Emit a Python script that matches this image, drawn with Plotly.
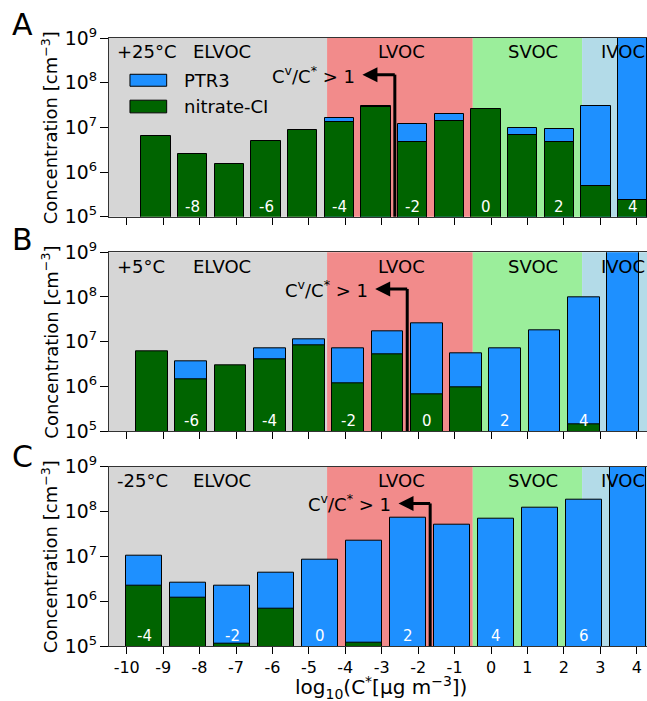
import plotly.graph_objects as go

# ---------------- data ----------------
# Panel A, +25 °C
bins_A = [-9, -8, -7, -6, -5, -4, -3, -2, -1, 0, 1, 2, 3, 4]
x_A = [-9.195, -8.189, -7.182, -6.176, -5.170, -4.164, -3.158, -2.152, -1.146, -0.139, 0.867, 1.873, 2.879, 3.885]
ptr3_A = [None, None, None, None, None, 1.60e7, 3.02e7, 1.16e7, 2.04e7, None, 9.9e6, 9.4e6, 3.02e7, 3e9]
nitrate_A = [6.35e6, 2.47e6, 1.50e6, 4.9e6, 8.8e6, 1.35e7, 2.87e7, 4.8e6, 1.42e7, 2.6e7, 6.6e6, 4.6e6, 4.9e5, 2.36e5]

# Panel B, +5 °C
bins_B = [-7, -6, -5, -4, -3, -2, -1, 0, 1, 2, 3, 4, 5]
x_B = [-9.310, -8.232, -7.154, -6.076, -4.998, -3.920, -2.842, -1.764, -0.686, 0.392, 1.470, 2.548, 3.626]
ptr3_B = [None, 3.56e6, None, 7.2e6, 1.11e7, 7.0e6, 1.73e7, 2.57e7, 5.4e6, 7.0e6, 1.76e7, 9.8e7, 3e9]
nitrate_B = [5.97e6, 1.44e6, 2.90e6, 4.0e6, 8.3e6, 1.15e6, 5.1e6, 6.6e5, 9.3e5, None, None, 1.44e5, None]

# Panel C, -25 °C
bins_C = [-4, -3, -2, -1, 0, 1, 2, 3, 4, 5, 6, 7]
x_C = [-9.522, -8.315, -7.108, -5.900, -4.693, -3.486, -2.278, -1.071, 0.137, 1.344, 2.551, 3.759]
ptr3_C = [1.02e7, 2.63e6, 2.25e6, 4.4e6, 8.6e6, 2.28e7, 7.2e7, 5.2e7, 7.0e7, 1.20e8, 1.81e8, 3e9]
nitrate_C = [2.18e6, 1.18e6, 1.13e5, 6.9e5, None, 1.21e5, None, None, None, None, None, None]

bar_width = [0.805, 0.87, 1.0]
temps = ["+25°C", "+5°C", "-25°C"]
letters = ["A", "B", "C"]
# C^v/C^* = 1 threshold position and arrow tip (log10 C*)
thresh_x = [-2.64, -2.30, -1.67]
arrow_tip_x = [-3.53, -3.18, -2.54]
arrow_y = 8.18  # log10 concentration of arrow

# volatility class regions (log10 C*)
region_names = ["ELVOC", "LVOC", "SVOC", "IVOC"]
region_edges = [-11, -4.5, -0.5, 2.5, 5]
region_colors = ["#d6d6d6", "#f28b8b", "#9bee9b", "#b3dbe8"]
region_label_x = [-7.38, -2.45, 1.16, 3.62]

BLUE = "#1e90ff"
GREEN = "#006400"
FONT = "DejaVu Sans"

panels = [
    (x_A, ptr3_A, nitrate_A, bins_A),
    (x_B, ptr3_B, nitrate_B, bins_B),
    (x_C, ptr3_C, nitrate_C, bins_C),
]

fig = go.Figure()
ydomains = [[0.7061, 1.0], [0.3536, 0.6475], [0.0, 0.2949]]
shapes = []
annotations = []

for i, (xs, ptr, nit, bins) in enumerate(panels):
    xa = "x" if i == 0 else f"x{i+1}"
    ya = "y" if i == 0 else f"y{i+1}"
    w = [bar_width[i]] * len(xs)
    fig.add_trace(go.Bar(x=xs, y=ptr, width=w, xaxis=xa, yaxis=ya, name="PTR3",
                         marker=dict(color=BLUE, line=dict(color="black", width=1)),
                         showlegend=False))
    fig.add_trace(go.Bar(x=xs, y=nit, width=w, xaxis=xa, yaxis=ya, name="nitrate-CI",
                         marker=dict(color=GREEN, line=dict(color="black", width=1)),
                         showlegend=False))
    # background regions
    for k in range(4):
        shapes.append(dict(type="rect", xref=xa, yref=f"{ya} domain",
                           x0=region_edges[k], x1=region_edges[k + 1], y0=0, y1=1,
                           fillcolor=region_colors[k], line=dict(width=0), layer="below"))
        annotations.append(dict(xref=xa, yref=f"{ya} domain", x=region_label_x[k], y=0.922,
                                text=region_names[k], showarrow=False, xanchor="center",
                                yanchor="middle", font=dict(family=FONT, size=18, color="black")))
    # temperature label
    annotations.append(dict(xref=f"{xa} domain", yref=f"{ya} domain", x=0.011, y=0.922,
                            text=temps[i], showarrow=False, xanchor="left", yanchor="middle",
                            font=dict(family=FONT, size=18, color="black")))
    # bin labels (white, inside bars)
    for xv, b in zip(xs, bins):
        if b % 2 == 0:
            annotations.append(dict(xref=xa, yref=ya, x=xv, y=5.22, text=str(b), showarrow=False,
                                    xanchor="center", yanchor="middle",
                                    font=dict(family=FONT, size=15, color="white")))
    # threshold line + arrow
    frac = (arrow_y - 5) / 4
    shapes.append(dict(type="line", xref=xa, yref=f"{ya} domain", x0=thresh_x[i], x1=thresh_x[i],
                       y0=0, y1=frac, line=dict(color="black", width=3), layer="above"))
    annotations.append(dict(xref=xa, yref=ya, x=arrow_tip_x[i], y=arrow_y,
                            axref=xa, ayref=ya, ax=thresh_x[i] + 0.04, ay=arrow_y,
                            text="", showarrow=True, arrowhead=2, arrowsize=1, arrowwidth=3,
                            arrowcolor="black", standoff=0))
    annotations.append(dict(xref=xa, yref=ya, x=arrow_tip_x[i] - 0.15, y=arrow_y,
                            text="C<sup>v</sup>/C<sup>*</sup> > 1", showarrow=False,
                            xanchor="right", yanchor="middle",
                            font=dict(family=FONT, size=18, color="black")))
    # y title
    annotations.append(dict(xref="paper", yref=f"{ya} domain", x=-0.1097, y=0.5,
                            text="Concentration [cm<sup>−3</sup>]", textangle=-90, showarrow=False,
                            xanchor="center", yanchor="middle",
                            font=dict(family=FONT, size=18, color="black")))
    # panel letter
    annotations.append(dict(xref="paper", yref="paper", x=-0.160,
                            y=[1.023, 0.668, 0.3125][i], text=letters[i], showarrow=False,
                            xanchor="center", yanchor="middle",
                            font=dict(family=FONT, size=30, color="black")))

# manual legend in panel A
shapes.append(dict(type="rect", xref="x domain", yref="y domain", x0=0.039, x1=0.1072,
                   y0=0.730, y1=0.797, fillcolor=BLUE, line=dict(color="black", width=1), layer="above"))
shapes.append(dict(type="rect", xref="x domain", yref="y domain", x0=0.039, x1=0.1072,
                   y0=0.581, y1=0.652, fillcolor=GREEN, line=dict(color="black", width=1), layer="above"))
annotations.append(dict(xref="x domain", yref="y domain", x=0.135, y=0.764, text="PTR3",
                        showarrow=False, xanchor="left", yanchor="middle",
                        font=dict(family=FONT, size=18, color="black")))
annotations.append(dict(xref="x domain", yref="y domain", x=0.135, y=0.618, text="nitrate-CI",
                        showarrow=False, xanchor="left", yanchor="middle",
                        font=dict(family=FONT, size=18, color="black")))

# x title
annotations.append(dict(xref="paper", yref="paper", x=0.506, y=-0.069,
                        text="log<sub>10</sub>(C<sup>*</sup>[μg m<sup>−3</sup>])", showarrow=False,
                        xanchor="center", yanchor="middle",
                        font=dict(family=FONT, size=20, color="black")))

xr = [-10.486, 4.282]
xticks = list(range(-10, 5))
common_x = dict(range=xr, tickmode="array", tickvals=xticks, ticktext=[str(t) for t in xticks],
                ticks="outside", ticklen=7, tickwidth=1.2, tickcolor="black",
                showline=True, linecolor="#333", linewidth=1, mirror=True,
                showgrid=False, zeroline=False,
                tickfont=dict(family=FONT, size=16, color="black"))
common_y = dict(type="log", range=[5, 9], dtick=1, exponentformat="power", showexponent="all",
                ticks="outside", ticklen=8, tickwidth=1.2, tickcolor="black",
                showline=True, linecolor="#333", linewidth=1, mirror=True,
                showgrid=False, zeroline=False,
                tickfont=dict(family=FONT, size=15, color="black"))

fig.update_layout(
    width=647, height=701,
    margin=dict(l=109, r=0, t=38, b=55),
    paper_bgcolor="white", plot_bgcolor="white",
    barmode="overlay", bargap=0,
    showlegend=False,
    font=dict(family=FONT, color="black"),
    shapes=shapes, annotations=annotations,
    xaxis=dict(common_x, anchor="y", domain=[0, 1], showticklabels=False),
    xaxis2=dict(common_x, anchor="y2", domain=[0, 1], showticklabels=False, matches="x"),
    xaxis3=dict(common_x, anchor="y3", domain=[0, 1], showticklabels=True, matches="x"),
    yaxis=dict(common_y, anchor="x", domain=ydomains[0]),
    yaxis2=dict(common_y, anchor="x2", domain=ydomains[1]),
    yaxis3=dict(common_y, anchor="x3", domain=ydomains[2]),
)

fig.write_html("out.html", config={"displayModeBar": False},
               post_script="document.body.style.margin='0px';document.body.style.overflow='hidden';")
